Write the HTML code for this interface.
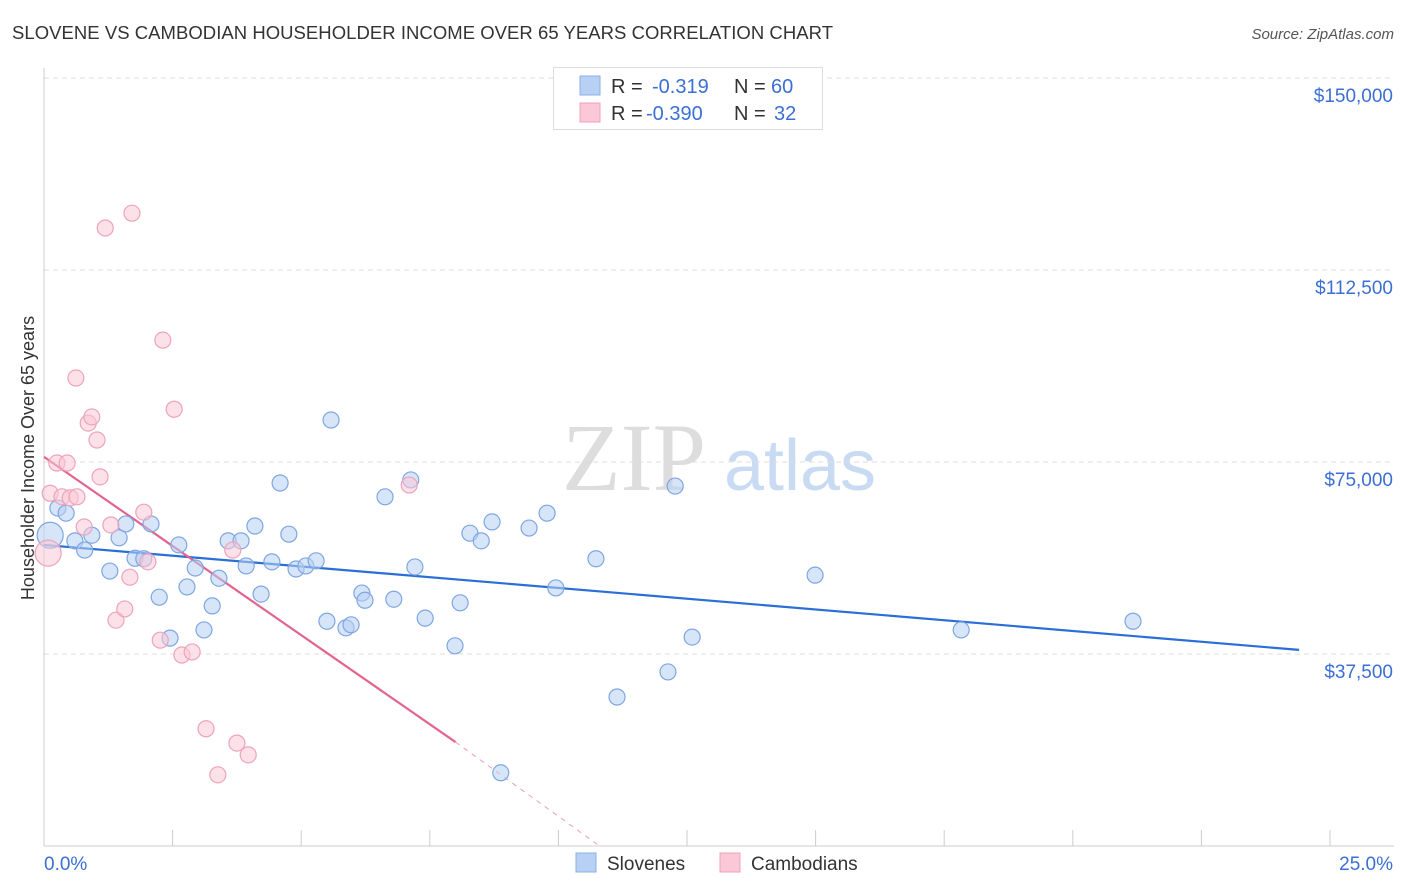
<!DOCTYPE html>
<html><head><meta charset="utf-8"><style>
body{margin:0;background:#fff;font-family:"Liberation Sans",sans-serif}
svg{display:block}
</style></head><body>
<svg id="c" width="1406" height="892">
<text x="12" y="39" font-size="18.5" fill="#333" textLength="821">SLOVENE VS CAMBODIAN HOUSEHOLDER INCOME OVER 65 YEARS CORRELATION CHART</text>
<text x="1394" y="39" font-size="15" fill="#555" font-style="italic" text-anchor="end">Source: ZipAtlas.com</text>
<text x="34" y="458" font-size="18" fill="#333" text-anchor="middle" transform="rotate(-90 34 458)">Householder Income Over 65 years</text>
<g><text x="634" y="490" font-size="96" fill="#ddd" font-family="Liberation Serif" text-anchor="middle">ZIP</text><text x="800" y="490" font-size="72" fill="#c9daf3" text-anchor="middle">atlas</text></g>
<g id="grid"></g><g id="axes"></g><g id="lines"></g><g id="pts"></g>
<g>
<rect x="553.5" y="67.5" width="269" height="62" fill="#fff" stroke="#ddd"/>
<rect x="580" y="76" width="20" height="19" fill="#b7d0f4" stroke="#8ab0e8"/>
<rect x="580" y="103" width="20" height="19" fill="#fac8d7" stroke="#f0a0b9"/>
<text x="611" y="93" font-size="20" fill="#333">R = <tspan x="652" fill="#3b6fd4">-0.319</tspan><tspan x="734">N = </tspan><tspan x="771" fill="#3b6fd4">60</tspan></text>
<text x="611" y="120" font-size="20" fill="#333">R = <tspan x="646" fill="#3b6fd4">-0.390</tspan><tspan x="734">N = </tspan><tspan x="774" fill="#3b6fd4">32</tspan></text>
</g>
<g>
<rect x="576" y="853" width="20" height="19" fill="#b7d0f4" stroke="#8ab0e8"/>
<text x="607" y="870" font-size="19" fill="#333">Slovenes</text>
<rect x="720" y="853" width="20" height="19" fill="#fac8d7" stroke="#f0a0b9"/>
<text x="751" y="870" font-size="19" fill="#333">Cambodians</text>
</g>
</svg>
<script>
const yTicks=[37500,75000,112500,150000];
const yTickLabels=["$37,500","$75,000","$112,500","$150,000"];
const xTickLabels=["0.0%","25.0%"];
const sloveneX=[0.12,0.27,0.43,0.60,0.79,0.93,1.28,1.46,1.59,1.77,1.94,2.08,2.24,2.45,2.62,2.78,2.94,3.11,3.27,3.40,3.58,3.83,3.93,4.10,4.22,4.43,4.59,4.76,4.90,5.09,5.29,5.50,5.58,5.87,5.97,6.18,6.24,6.63,6.80,7.13,7.21,7.41,7.99,8.09,8.28,8.50,8.71,8.88,9.43,9.78,9.95,10.73,11.14,12.13,12.27,12.60,14.99,17.83,21.17];
const sloveneY=[60.7,66.0,65.0,59.6,57.8,60.7,53.7,60.2,62.9,56.2,56.1,62.9,48.6,40.6,58.8,50.6,54.3,42.2,46.9,52.3,59.6,59.6,54.7,62.5,49.2,55.5,70.9,60.9,54.1,54.7,55.7,43.9,83.2,42.6,43.2,49.4,48.0,68.2,48.2,71.5,54.5,44.5,39.1,47.5,61.1,59.6,63.3,14.3,62.1,65.0,50.4,56.1,29.1,34.0,70.3,40.8,52.9,42.2,43.9];
const cambX=[0.08,0.12,0.25,0.35,0.45,0.51,0.64,0.62,0.78,0.86,0.93,1.03,1.09,1.19,1.30,1.40,1.57,1.67,1.71,1.94,2.02,2.26,2.31,2.53,2.68,2.88,3.15,3.38,3.67,3.75,3.97,7.10];
const cambY=[57.2,68.9,74.8,68.2,74.8,68.0,68.2,91.4,62.3,82.6,83.8,79.3,72.1,120.7,62.7,44.1,46.3,52.5,123.6,65.2,55.5,40.2,98.8,85.3,37.3,37.9,22.9,13.9,57.8,20.1,17.8,70.5];
const sloveneTrend=[[0,58.8],[24.4,38.3]];
const cambTrend=[[0,76.0],[8.0,20.3]];
const cambTrendDash=[[8.0,20.3],[10.8,0]];
const X=v=>44+v*51.44, Y=k=>846-k*1000*192/37500;
const NS="http://www.w3.org/2000/svg";
function mk(p,t,a){const e=document.createElementNS(NS,t);for(const k in a)e.setAttribute(k,a[k]);p.appendChild(e);return e;}
const grid=document.getElementById('grid'),axes=document.getElementById('axes'),lines=document.getElementById('lines'),pts=document.getElementById('pts');
yTicks.forEach((v,i)=>{const g=mk(grid,'line',{x1:44,x2:1394,y1:Y(v/1000),y2:Y(v/1000),stroke:'#ddd','stroke-dasharray':'5,4'});

const t=mk(axes,'text',{x:1393,y:Y(v/1000)+24,'font-size':19,fill:'#3b6fd4','text-anchor':'end'});t.textContent=yTickLabels[i];
});
const ax=mk(axes,'line',{x1:44,x2:44,y1:68,y2:846,stroke:'#ccc'});
const bx=mk(axes,'line',{x1:44,x2:1394,y1:846,y2:846,stroke:'#ccc'});
for(let i=0;i<=10;i++){const t=mk(axes,'line',{x1:X(i*2.5),x2:X(i*2.5),y1:830,y2:846,stroke:'#ccc'});}
const l0=mk(axes,'text',{x:44,y:870,'font-size':19,fill:'#3b6fd4'});l0.textContent=xTickLabels[0];
const l1=mk(axes,'text',{x:1393,y:870,'font-size':19,fill:'#3b6fd4','text-anchor':'end'});l1.textContent=xTickLabels[1];
function pt(x,y,r,fill,st,name){const c=mk(pts,'circle',{cx:X(x),cy:Y(y),r:r,fill:fill,'fill-opacity':0.55,stroke:st,'stroke-width':1.2});
}
sloveneX.forEach((x,i)=>pt(x,sloveneY[i],i==0?13:8,'#b7d0f4','#7ea6e2','slovene-point'));
cambX.forEach((x,i)=>pt(x,cambY[i],i==0?13:8,'#fac8d7','#eea3bb','cambodian-point'));
function ln(d,st,dash,name){const e=mk(lines,'line',{x1:X(d[0][0]),y1:Y(d[0][1]),x2:X(d[1][0]),y2:Y(d[1][1]),stroke:st,'stroke-width':dash?1:2.2});if(dash)e.setAttribute('stroke-dasharray','5,5');
}
ln(sloveneTrend,'#2a6fd6',false,'slovene-trendline');
ln(cambTrend,'#e2648f',false,'cambodian-trendline');
ln(cambTrendDash,'#e8a0b8',true,'cambodian-trendline-extension');
</script>
</body></html>
